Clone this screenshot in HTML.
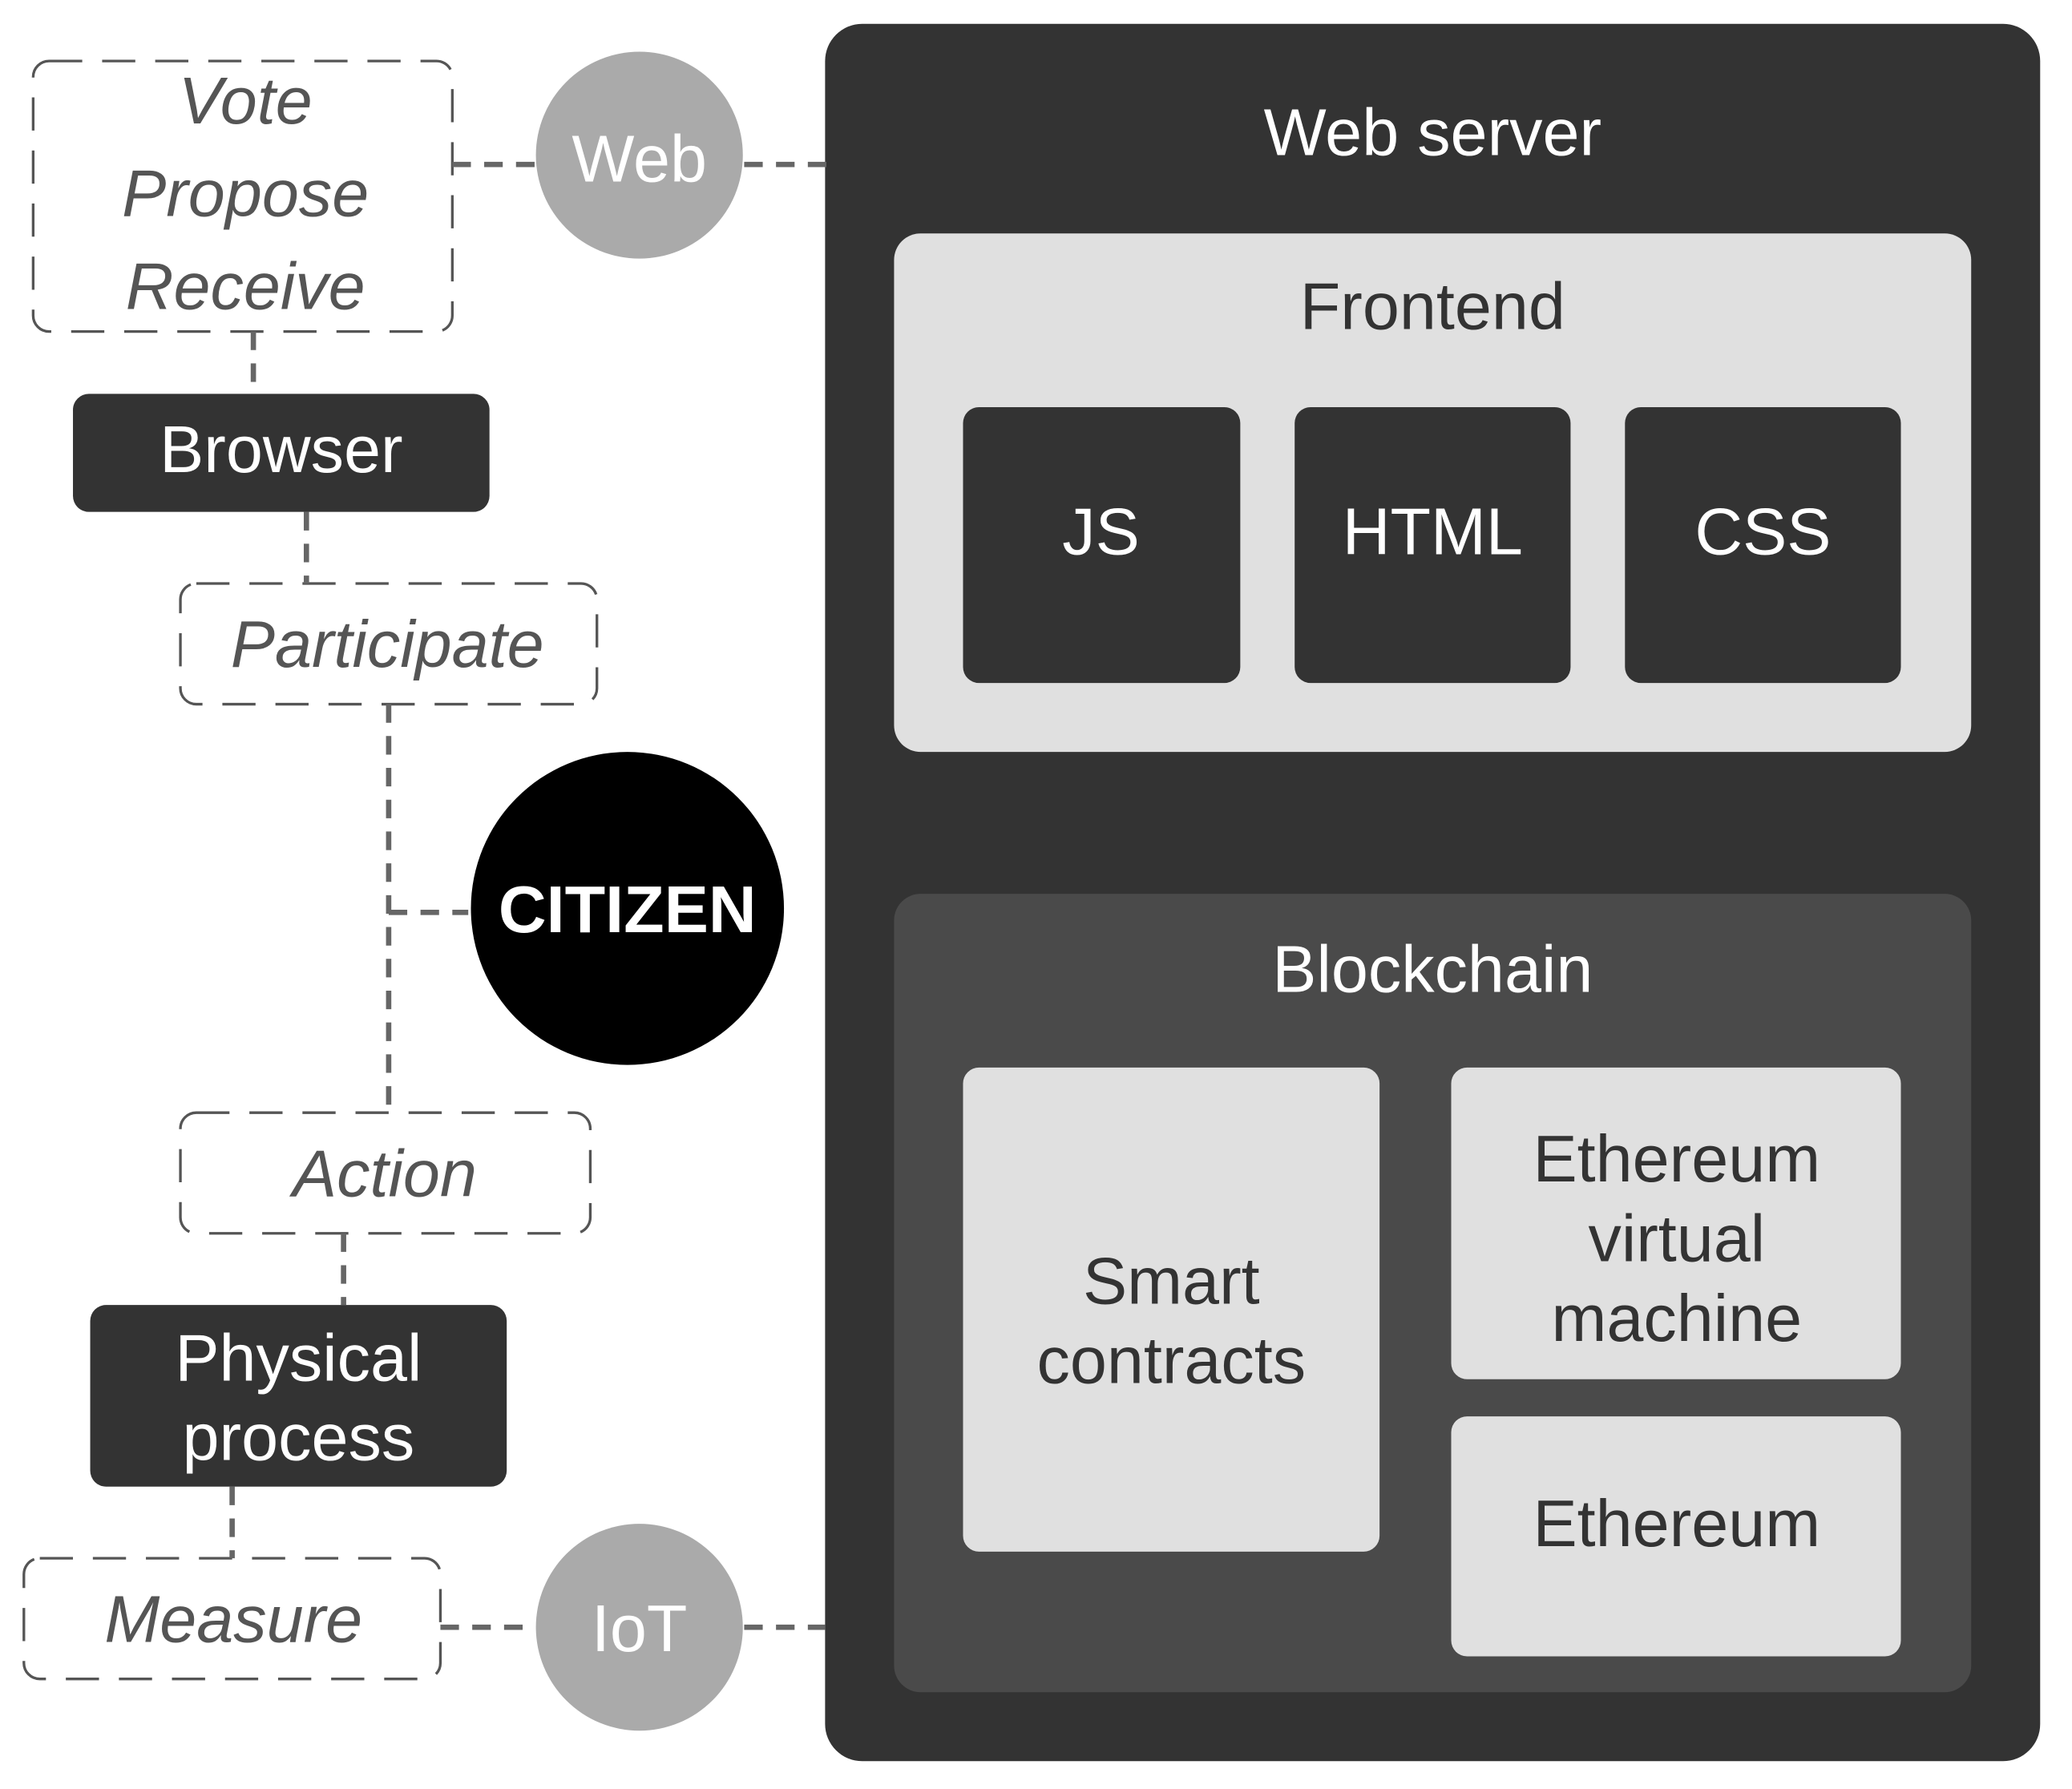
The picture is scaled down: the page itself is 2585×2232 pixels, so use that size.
<!DOCTYPE html>
<html><head><style>html,body{margin:0;padding:0;background:#fff}svg{display:block}</style></head>
<body>
<svg xmlns="http://www.w3.org/2000/svg" width="2585" height="2232" viewBox="0 0 1562 1349" preserveAspectRatio="none" font-family="Liberation Sans, Arial, sans-serif">
<rect x="622" y="18" width="916" height="1310" rx="28" fill="#333"/>
<text x="1080" y="117" font-size="50" fill="#fff" text-anchor="middle">Web server</text>
<rect x="674" y="176" width="812" height="391" rx="20" fill="#e0e0e0"/>
<text x="1080" y="248" font-size="50" fill="#333" text-anchor="middle">Frontend</text>
<rect x="726" y="307" width="209" height="208" rx="12" fill="#333"/>
<rect x="976" y="307" width="208" height="208" rx="12" fill="#333"/>
<rect x="1225" y="307" width="208" height="208" rx="12" fill="#333"/>
<g font-size="50" fill="#fff" text-anchor="middle">
<text x="830" y="418">JS</text><text x="1080" y="418">HTML</text><text x="1329" y="418">CSS</text>
</g>
<rect x="674" y="674" width="812" height="602" rx="20" fill="#4a4a4a"/>
<text x="1080" y="748" font-size="50" fill="#fff" text-anchor="middle">Blockchain</text>
<rect x="726" y="805" width="314" height="365" rx="12" fill="#e0e0e0"/>
<rect x="1094" y="805" width="339" height="235" rx="12" fill="#e0e0e0"/>
<rect x="1094" y="1068" width="339" height="181" rx="12" fill="#e0e0e0"/>
<g font-size="50" fill="#333" text-anchor="middle">
<text x="883" y="983">Smart</text><text x="883" y="1043">contracts</text>
<text x="1264" y="891">Ethereum</text><text x="1264" y="951">virtual</text><text x="1264" y="1011">machine</text>
<text x="1264" y="1166">Ethereum</text>
</g>
<g fill="none" stroke="#555" stroke-width="2" stroke-dasharray="25 15">
<rect x="25" y="46" width="316" height="204" rx="12"/>
<rect x="136" y="440" width="314" height="91" rx="12"/>
<rect x="136" y="839" width="309" height="91" rx="12"/>
<rect x="18" y="1175" width="314" height="91" rx="12"/>
</g>
<g fill="none" stroke="#666" stroke-width="4" stroke-dasharray="14 10">
<line x1="341" y1="124" x2="404" y2="124"/>
<line x1="561" y1="124" x2="628" y2="124"/>
<line x1="191" y1="250" x2="191" y2="297"/>
<line x1="231" y1="386" x2="231" y2="440"/>
<line x1="293" y1="531" x2="293" y2="839"/>
<line x1="293" y1="688" x2="353" y2="688"/>
<line x1="259" y1="930" x2="259" y2="984"/>
<line x1="175" y1="1121" x2="175" y2="1175"/>
<line x1="332" y1="1227" x2="404" y2="1227"/>
<line x1="561" y1="1227" x2="622" y2="1227"/>
</g>
<g font-size="50" fill="#555" text-anchor="middle" font-style="italic">
<text x="185" y="93">Vote</text><text x="185" y="163">Propose</text><text x="185" y="233">Receive</text>
<text x="292" y="503">Participate</text>
<text x="290" y="902">Action</text>
<text x="176" y="1238">Measure</text>
</g>
<circle cx="482" cy="117" r="78" fill="#aaa"/>
<circle cx="482" cy="1227" r="78" fill="#aaa"/>
<g font-size="50" fill="#fff" text-anchor="middle">
<text x="482" y="137">Web</text><text x="482" y="1245">IoT</text>
</g>
<rect x="55" y="297" width="314" height="89" rx="12" fill="#333"/>
<rect x="68" y="984" width="314" height="137" rx="12" fill="#333"/>
<g font-size="50" fill="#fff" text-anchor="middle">
<text x="212" y="356">Browser</text>
<text x="225" y="1041">Physical</text><text x="225" y="1101">process</text>
</g>
<circle cx="473" cy="685" r="118" fill="#000"/>
<text x="473" y="703" font-size="50" font-weight="bold" fill="#fff" text-anchor="middle">CITIZEN</text>
</svg>
</body></html>
